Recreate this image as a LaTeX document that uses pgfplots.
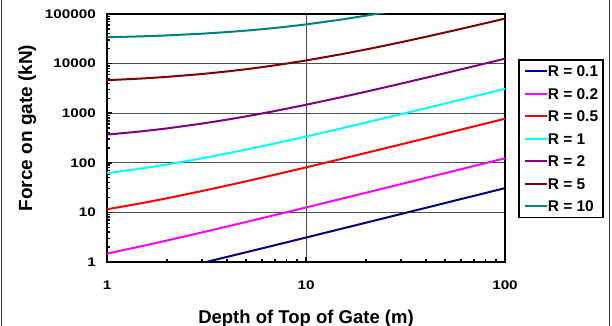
\documentclass[border=0pt]{standalone}
\usepackage{graphicx}
\usepackage{pgfplots}
\pgfplotsset{compat=1.18}
\usepackage{fontspec}
\setmainfont{Liberation Sans}
\definecolor{cNavy}{RGB}{0,0,128}
\definecolor{cMag}{RGB}{255,0,255}
\definecolor{cRed}{RGB}{255,0,0}
\definecolor{cCyan}{RGB}{0,255,255}
\definecolor{cPurple}{RGB}{128,0,128}
\definecolor{cDRed}{RGB}{128,0,0}
\definecolor{cTeal}{RGB}{0,128,128}
\newcommand{\tl}[1]{\scalebox{1.22}[1]{#1}}
\begin{document}
\begin{tikzpicture}
\useasboundingbox (0,0) rectangle (612bp,326bp);
\draw[black!80, line width=0.9bp] (1.5bp,0) -- (1.5bp,326bp);
\draw[black!80, line width=0.9bp] (609.5bp,0) -- (609.5bp,326bp);
\begin{axis}[
  at={(107bp,64bp)}, anchor=south west,
  scale only axis, width=398bp, height=248bp,
  xmode=log, ymode=log,
  xmin=1, xmax=100, ymin=1, ymax=100000,
  xtick={1,10,100}, xticklabels={\tl{1},\tl{10},\tl{100}},
  ytick={1,10,100,1000,10000,100000},
  yticklabels={\tl{1},\tl{10},\tl{100},\tl{1000},\tl{10000},\tl{100000}},
  minor xtick={}, minor ytick={},
  tick pos=left, tick align=inside,
  major tick length=5bp,
  tick style={line width=1.5bp, black},
  grid=major, major grid style={black!70, line width=0.8bp},
  axis line style={line width=2.5bp, black},
  xticklabel style={font=\fontsize{12.5bp}{14bp}\selectfont\bfseries, anchor=north, inner sep=0pt, yshift=-19bp},
  yticklabel style={font=\fontsize{12.5bp}{14bp}\selectfont\bfseries, anchor=east, inner sep=0pt, xshift=-11bp},
  xlabel={Depth of Top of Gate (m)},
  xlabel style={font=\fontsize{18.5bp}{20bp}\selectfont\bfseries, at={(axis description cs:0.5,0)}, anchor=base, yshift=-61bp},
  ylabel={Force on gate (kN)},
  ylabel style={font=\fontsize{19bp}{20bp}\selectfont\bfseries, at={(axis description cs:-0.1884,0.540)}, anchor=base},
  legend style={at={(1.0327,0.8185)}, anchor=north west, draw=black, line width=1.5bp,
    font=\fontsize{15.5bp}{17bp}\selectfont\bfseries, inner xsep=5bp, inner ysep=5.5bp,
    row sep=11bp, nodes={inner sep=0pt, text height=11.5bp, text depth=0pt}},
  legend cell align=left,
  legend image code/.code={\draw[#1] (0bp,0bp) -- (22bp,0bp);},
  every axis plot/.append style={line width=2bp},
]
\addplot[cNavy] coordinates {(1,0.339) (1.5,0.493) (2,0.647) (3,0.955) (4,1.264) (5,1.572) (6,1.880) (7,2.188) (8,2.496) (10,3.113) (15,4.654) (20,6.195) (25,7.736) (30,9.277) (40,12.36) (50,15.44) (60,18.52) (70,21.61) (80,24.69) (90,27.77) (100,30.85)};
\addlegendentry{R = 0.1}
\addplot[cMag] coordinates {(1,1.479) (1.5,2.096) (2,2.712) (3,3.945) (4,5.178) (5,6.411) (6,7.643) (7,8.876) (8,10.11) (10,12.57) (15,18.74) (20,24.90) (25,31.07) (30,37.23) (40,49.56) (50,61.89) (60,74.21) (70,86.54) (80,98.87) (90,111.2) (100,123.5)};
\addlegendentry{R = 0.2}
\addplot[cRed] coordinates {(1,11.56) (1.5,15.41) (2,19.26) (3,26.97) (4,34.67) (5,42.38) (6,50.08) (7,57.79) (8,65.49) (10,80.90) (15,119.4) (20,158.0) (25,196.5) (30,235.0) (40,312.1) (50,389.1) (60,466.2) (70,543.2) (80,620.3) (90,697.3) (100,774.4)};
\addlegendentry{R = 0.5}
\addplot[cCyan] coordinates {(1,61.64) (1.5,77.05) (2,92.46) (3,123.3) (4,154.1) (5,184.9) (6,215.7) (7,246.6) (8,277.4) (10,339.0) (15,493.1) (20,647.2) (25,801.3) (30,955.4) (40,1264) (50,1572) (60,1880) (70,2188) (80,2496) (90,2805) (100,3113)};
\addlegendentry{R = 1}
\addplot[cPurple] coordinates {(1,369.8) (1.5,431.5) (2,493.1) (3,616.4) (4,739.7) (5,863.0) (6,986.2) (7,1110) (8,1233) (10,1479) (15,2096) (20,2712) (25,3329) (30,3945) (40,5178) (50,6411) (60,7643) (70,8876) (80,10110) (90,11340) (100,12570)};
\addlegendentry{R = 2}
\addplot[cDRed] coordinates {(1,4623) (1.5,5008) (2,5394) (3,6164) (4,6935) (5,7705) (6,8476) (7,9246) (8,10017) (10,11558) (15,15410) (20,19263) (25,23115) (30,26968) (40,34673) (50,42378) (60,50083) (70,57788) (80,65493) (90,73198) (100,80903)};
\addlegendentry{R = 5}
\addplot[cTeal] coordinates {(1,33902) (1.5,35443) (2,36984) (3,40066) (4,43148) (5,46230) (6,49312) (7,52394) (8,55476) (10,61640) (15,77050) (20,92460) (25,107870) (30,123280)};
\addlegendentry{R = 10}
\end{axis}
\end{tikzpicture}
\end{document}
